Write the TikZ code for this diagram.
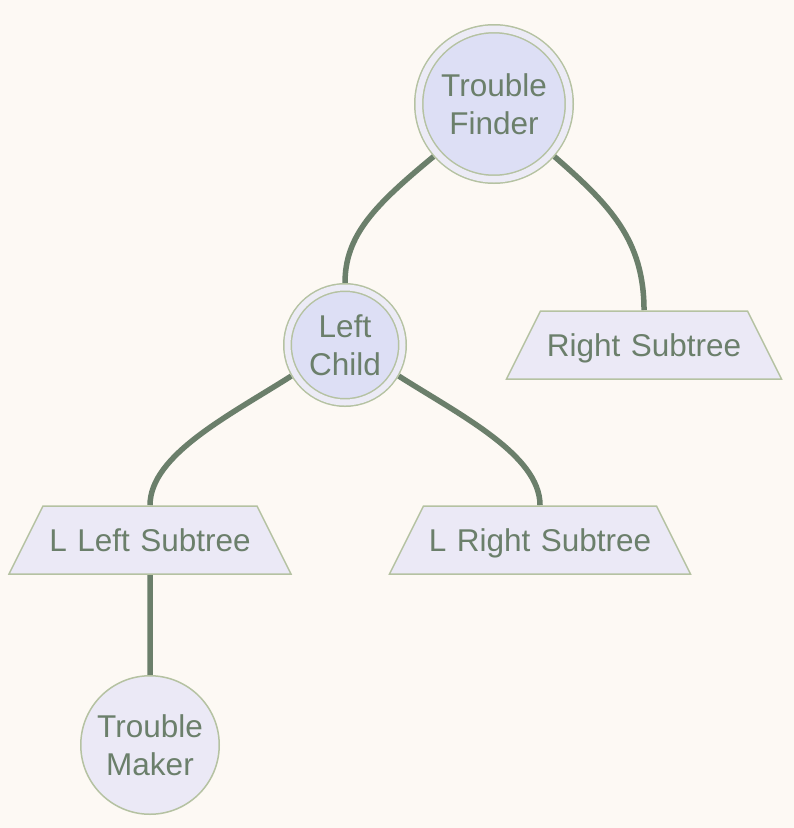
\documentclass[tikz,border=0pt]{standalone}
\usepackage{fontspec}
\setmainfont{Liberation Sans}
\usetikzlibrary{shapes.geometric}
\definecolor{bgc}{HTML}{FDF9F4}
\definecolor{edgec}{HTML}{6B7F6B}
\definecolor{txtc}{HTML}{6B7F6B}
\definecolor{strokec}{HTML}{B5C2A2}
\definecolor{innerc}{HTML}{DDDFF5}
\definecolor{ringc}{HTML}{ECEBF6}
\definecolor{tzc}{HTML}{EBE9F6}
\pgfdeclarelayer{bg}
\pgfdeclarelayer{edges}
\pgfsetlayers{bg,edges,main}
\tikzset{
  lbl/.style={font=\fontsize{31.5}{38}\selectfont, text=txtc, align=center},
  dcirc/.style={lbl, circle, draw=strokec, line width=1.5pt, fill=innerc,
    double=ringc, inner sep=0pt},
  scirc/.style={lbl, circle, draw=strokec, line width=1.5pt, fill=tzc,
    inner sep=0pt, minimum size=138.5pt, outer sep=0.75pt},
  tzbox/.style={lbl, trapezium, trapezium left angle=63.43, trapezium right angle=63.43,
    draw=strokec, line width=1.5pt, fill=tzc, inner xsep=0pt, inner ysep=0pt,
    text width=#1, text height=45pt, text depth=23pt},
  edge/.style={draw=edgec, line width=5.5pt}
}
\begin{document}
\begin{tikzpicture}[x=1pt, y=-1pt]
\begin{pgfonlayer}{bg}
\fill[bgc] (0,0) rectangle (794,828);
\end{pgfonlayer}
\useasboundingbox (0,0) rectangle (794,828);

\node[dcirc, double distance=6.5pt, minimum size=150.5pt, outer sep=4.75pt] (tf) at (494,104) {Trouble\\Finder};
\node[dcirc, double distance=6pt, minimum size=115pt, outer sep=4.5pt] (lc) at (345,345) {Left\\Child};
\node[tzbox=207pt] (rs) at (644,345) {Right Subtree};
\node[tzbox=214pt] (lls) at (150,540) {L Left Subtree};
\node[tzbox=233pt] (lrs) at (540,540) {L Right Subtree};
\node[scirc] (tm) at (150,745) {Trouble\\Maker};

\begin{pgfonlayer}{edges}
\draw[edge] (tf.221) .. controls (375,205) and (345,235) .. (lc.north);
\draw[edge] (tf.319) .. controls (610,205) and (644,240) .. (rs.north);
\draw[edge] (lc.210) .. controls (230,415) and (150,455) .. (lls.north);
\draw[edge] (lc.330) .. controls (460,415) and (540,455) .. (lrs.north);
\draw[edge] (lls.south) -- (tm.north);
\end{pgfonlayer}
\end{tikzpicture}
\end{document}
